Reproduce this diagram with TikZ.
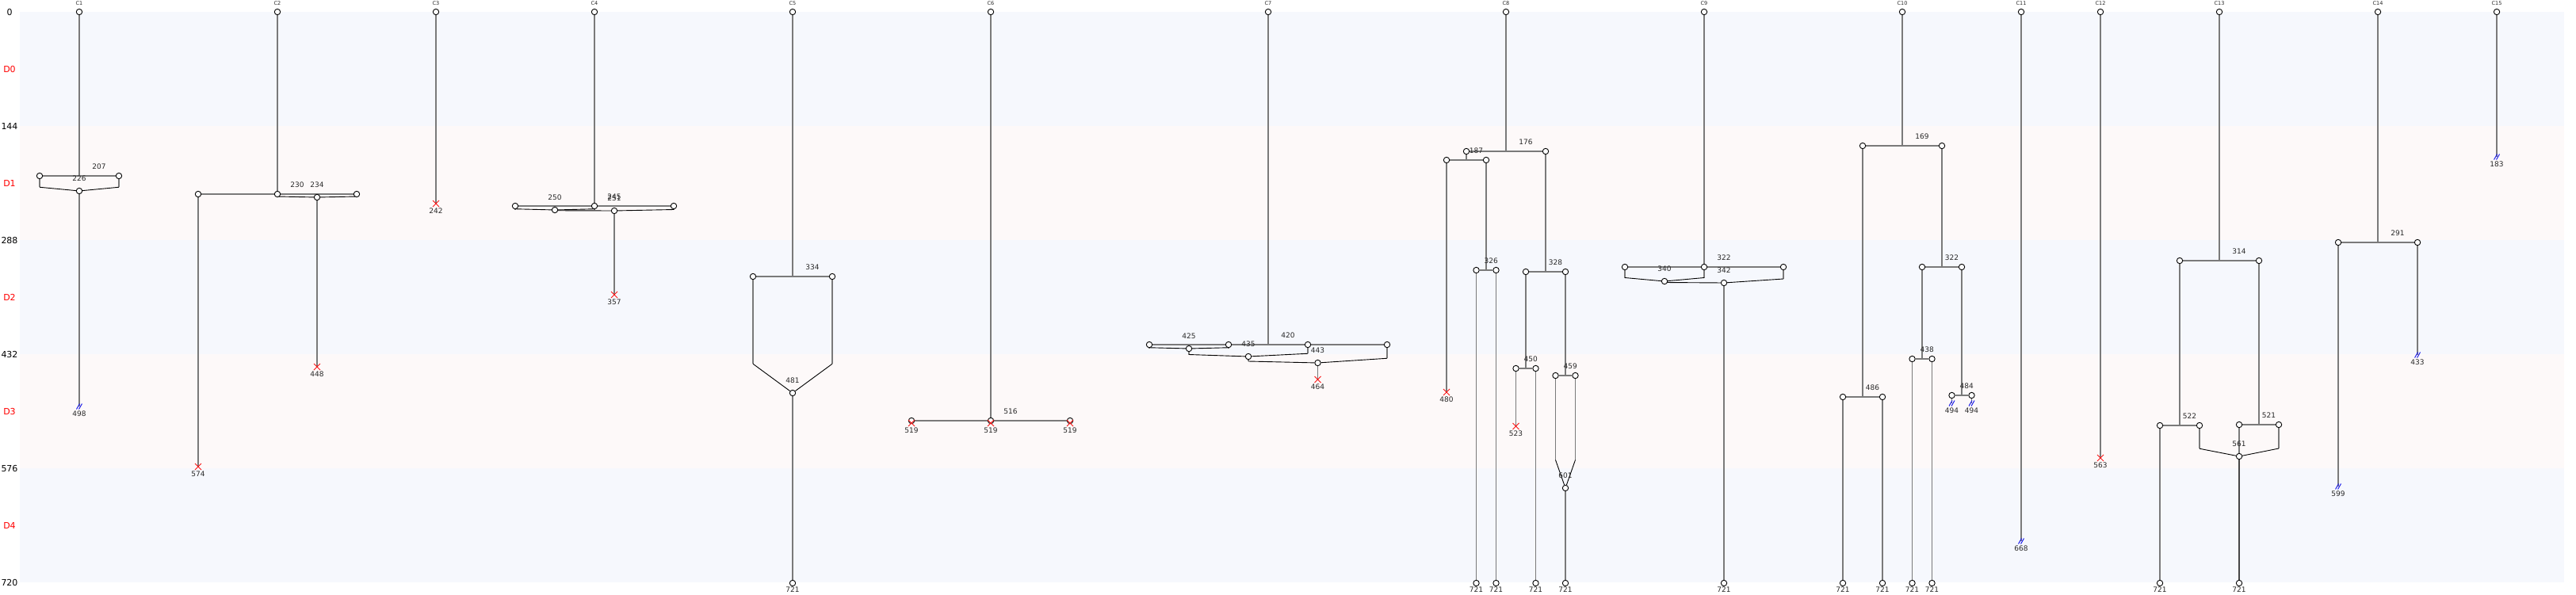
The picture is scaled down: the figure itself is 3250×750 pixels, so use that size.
\documentclass[tikz,border=0pt]{standalone}
\usepackage{fontspec}
\setmainfont{DejaVu Sans}
\usetikzlibrary{calc}
\definecolor{trkgray}{RGB}{122,122,122}
\definecolor{trkdark}{RGB}{70,70,70}
\definecolor{bandA}{RGB}{246,248,253}
\definecolor{bandB}{RGB}{253,249,249}
\definecolor{lblcol}{RGB}{40,40,40}
\definecolor{endblue}{RGB}{30,30,235}
\definecolor{endred}{RGB}{250,20,20}
\pgfdeclarelayer{bg}
\pgfdeclarelayer{lines}
\pgfsetlayers{bg,lines,main}
\tikzset{
 ev/.style={circle, draw=black, fill=white, line width=0.9pt, minimum size=7.4pt, inner sep=0pt},
 trk/.style={draw=trkgray, line width=1.6pt},
 trkd/.style={draw=trkdark, line width=1.6pt},
 mrg/.style={draw=black, line width=0.9pt},
 lbl/.style={font=\fontsize{9}{9}\selectfont, text=lblcol, inner sep=0pt},
 hdr/.style={font=\fontsize{6.5}{6.5}\selectfont, text=lblcol, inner sep=0pt},
 axl/.style={font=\fontsize{11}{11}\selectfont, inner sep=0pt},
 xmark/.style={draw=endred, line width=1pt},
 smark/.style={draw=endblue, line width=1pt},
}
\newcounter{lbc}
\newcommand\Lb[3]{\stepcounter{lbc}\node[lbl] (lb\the\value{lbc}) at (#1,#2) {#3};}
\newcommand\Top[3]{\node[ev] (#1) at (#2,0) {};\node[hdr] (#1h) at (#2,-10.5) {#3};}
\newcommand\Ev[3]{\node[ev] (#1) at (#2,#3) {};}
\newcommand\Pt[3]{\coordinate (#1) at (#2,#3);}
\newcommand\EndX[4]{\coordinate (#1) at (#2,#3);
 \draw[xmark] (#1) ++(-4,-4) -- ++(8,8) (#1) ++(-4,4) -- ++(8,-8);
 \Lb{#2}{{#3+9}}{#4}}
\newcommand\EndS[4]{\coordinate (#1) at (#2,#3);
 \draw[smark] (#1) ++(-3.5,3.5) -- ++(4,-7) (#1) ++(-0.5,3.5) -- ++(4,-7);
 \Lb{#2}{{#3+9}}{#4}}
\newcommand\EndO[2]{\node[ev] (#1) at (#2,721) {};\Lb{#2}{729.5}{721}}
\begin{document}
\begin{tikzpicture}[x=1pt,y=-1pt]
\useasboundingbox (0,0) rectangle (3250,750);
\begin{scope}[shift={(0,15)}]
\begin{pgfonlayer}{bg}
\fill[bandA] (25,0) rectangle (3235,144);
\fill[bandB] (25,144) rectangle (3235,288);
\fill[bandA] (25,288) rectangle (3235,432);
\fill[bandB] (25,432) rectangle (3235,576);
\fill[bandA] (25,576) rectangle (3235,720);
\end{pgfonlayer}
\foreach \v in {0,144,288,432,576,720} \node[axl] (ax\v) at (12,\v) {\v};
\foreach \i/\v in {0/72,1/216,2/360,3/504,4/648} \node[axl,text=red] (dl\i) at (12,\v) {D\i};
% ---------- C1
\Top{t1}{100}{C1}\Pt{s1}{100}{207}
\Ev{a1l}{50}{207}\Ev{a1r}{150}{207}\Lb{125}{195.5}{207}
\Ev{m1}{100}{226}\Lb{100}{210.5}{226}
\Pt{q1l}{50}{221.25}\Pt{q1r}{150}{221.25}
\EndS{e1}{100}{498}{498}
% ---------- C2
\Top{t2}{350}{C2}
\Ev{a2l}{250}{230}\Ev{a2c}{350}{230}\Ev{a2r}{450}{230}\Lb{375}{218.5}{230}
\Ev{m2}{400}{234}\Lb{400}{218.5}{234}
\Pt{q2c}{350}{233}\Pt{q2r}{450}{233}
\EndX{e2a}{250}{574}{574}
\EndX{e2b}{400}{448}{448}
% ---------- C3
\Top{t3}{550}{C3}\EndX{e3}{550}{242}{242}
% ---------- C4
\Top{t4}{750}{C4}
\Ev{a4l}{650}{245}\Ev{a4c}{750}{245}\Ev{a4r}{850}{245}\Lb{775}{233.5}{245}
\Ev{m4a}{700}{250}\Lb{700}{234.5}{250}
\Ev{m4b}{775}{251}\Lb{775}{235.5}{251}
\Pt{q4l}{650}{248.75}\Pt{q4c}{750}{248.75}\Pt{q4a}{700}{250.75}\Pt{q4r}{850}{249.5}
\EndX{e4}{775}{357}{357}
% ---------- C5
\Top{t5}{1000}{C5}\Pt{s5}{1000}{334}
\Ev{a5l}{950}{334}\Ev{a5r}{1050}{334}\Lb{1025}{322.5}{334}
\Ev{m5}{1000}{481}\Lb{1000}{465.5}{481}
\Pt{q5l}{950}{444.25}\Pt{q5r}{1050}{444.25}
\EndO{b5}{1000}
% ---------- C6
\Top{t6}{1250}{C6}
\Ev{a6l}{1150}{516}\Ev{a6c}{1250}{516}\Ev{a6r}{1350}{516}\Lb{1275}{504.5}{516}
\EndX{e6l}{1150}{519}{519}\EndX{e6c}{1250}{519}{519}\EndX{e6r}{1350}{519}{519}
% ---------- C7
\Top{t7}{1600}{C7}\Pt{s7}{1600}{420}
\Ev{a7a}{1450}{420}\Ev{a7b}{1550}{420}\Ev{a7c}{1650}{420}\Ev{a7d}{1750}{420}
\Lb{1625}{408.5}{420}
\Ev{m7a}{1500}{425}\Lb{1500}{409.5}{425}
\Ev{m7b}{1575}{435}\Lb{1575}{419.5}{435}
\Ev{m7c}{1662.5}{443}\Lb{1662.5}{427.5}{443}
\Pt{q7a}{1450}{423.75}\Pt{q7b}{1550}{423.75}
\Pt{q7m}{1500}{432.5}\Pt{q7c}{1650}{431.25}
\Pt{q7n}{1575}{441}\Pt{q7d}{1750}{437.25}
\EndX{e7}{1662.5}{464}{464}
% ---------- C8
\Top{t8}{1900}{C8}\Pt{s8}{1900}{176}
\Ev{a8l}{1850}{176}\Ev{a8r}{1950}{176}\Lb{1925}{164.5}{176}
\Pt{s8b}{1850}{187}\Ev{a8ll}{1825}{187}\Ev{a8lr}{1875}{187}\Lb{1862.5}{175.5}{187}
\EndX{e8a}{1825}{480}{480}
\Pt{s8c}{1875}{326}\Ev{c8l}{1862.5}{326}\Ev{c8r}{1887.5}{326}\Lb{1881.25}{314.5}{326}
\EndO{b8a}{1862.5}\EndO{b8b}{1887.5}
\Pt{s8d}{1950}{328}\Ev{d8l}{1925}{328}\Ev{d8r}{1975}{328}\Lb{1962.5}{316.5}{328}
\Pt{s8e}{1925}{450}\Ev{f8l}{1912.5}{450}\Ev{f8r}{1937.5}{450}\Lb{1931.25}{438.5}{450}
\EndX{e8b}{1912.5}{523}{523}\EndO{b8c}{1937.5}
\Pt{s8f}{1975}{459}\Ev{g8l}{1962.5}{459}\Ev{g8r}{1987.5}{459}\Lb{1981.25}{447.5}{459}
\Ev{m8}{1975}{601}\Lb{1975}{585.5}{601}
\Pt{q8l}{1962.5}{565.5}\Pt{q8r}{1987.5}{565.5}
\EndO{b8d}{1975}
% ---------- C9
\Top{t9}{2150}{C9}
\Ev{a9l}{2050}{322}\Ev{a9c}{2150}{322}\Ev{a9r}{2250}{322}\Lb{2175}{310.5}{322}
\Ev{m9a}{2100}{340}\Lb{2100}{324.5}{340}
\Ev{m9b}{2175}{342}\Lb{2175}{326.5}{342}
\Pt{q9l}{2050}{335.5}\Pt{q9c}{2150}{335.5}\Pt{q9a}{2100}{341.5}\Pt{q9r}{2250}{337}
\EndO{b9}{2175}
% ---------- C10
\Top{t10}{2400}{C10}\Pt{s10}{2400}{169}
\Ev{a10l}{2350}{169}\Ev{a10r}{2450}{169}\Lb{2425}{157.5}{169}
\Pt{s10b}{2350}{486}\Ev{h10l}{2325}{486}\Ev{h10r}{2375}{486}\Lb{2362.5}{474.5}{486}
\EndO{b10a}{2325}\EndO{b10b}{2375}
\Pt{s10c}{2450}{322}\Ev{i10l}{2425}{322}\Ev{i10r}{2475}{322}\Lb{2462.5}{310.5}{322}
\Pt{s10d}{2425}{438}\Ev{j10l}{2412.5}{438}\Ev{j10r}{2437.5}{438}\Lb{2431.25}{426.5}{438}
\EndO{b10c}{2412.5}\EndO{b10d}{2437.5}
\Pt{s10e}{2475}{484}\Ev{k10l}{2462.5}{484}\Ev{k10r}{2487.5}{484}\Lb{2481.25}{472.5}{484}
\EndS{e10a}{2462.5}{494}{494}\EndS{e10b}{2487.5}{494}{494}
% ---------- C11, C12
\Top{t11}{2550}{C11}\EndS{e11}{2550}{668}{668}
\Top{t12}{2650}{C12}\EndX{e12}{2650}{563}{563}
% ---------- C13
\Top{t13}{2800}{C13}\Pt{s13}{2800}{314}
\Ev{a13l}{2750}{314}\Ev{a13r}{2850}{314}\Lb{2825}{302.5}{314}
\Pt{s13b}{2750}{522}\Ev{n13l}{2725}{522}\Ev{n13r}{2775}{522}\Lb{2762.5}{510.5}{522}
\Pt{s13c}{2850}{521}\Ev{o13l}{2825}{521}\Ev{o13r}{2875}{521}\Lb{2862.5}{509.5}{521}
\Ev{m13}{2825}{561}\Lb{2825}{545.5}{561}
\Pt{q13l}{2775}{551.25}\Pt{q13r}{2875}{551}
\EndO{b13a}{2725}\EndO{b13b}{2825}
% ---------- C14
\Top{t14}{3000}{C14}\Pt{s14}{3000}{291}
\Ev{a14l}{2950}{291}\Ev{a14r}{3050}{291}\Lb{3025}{279.5}{291}
\EndS{e14a}{2950}{599}{599}\EndS{e14b}{3050}{433}{433}
% ---------- C15
\Top{t15}{3150}{C15}\EndS{e15}{3150}{183}{183}
% ================= connectors
\begin{pgfonlayer}{lines}
% C1
\draw[trk] (t1) -- (s1); \draw[trk] (a1l) -- (a1r);
\draw[trk] (a1l) -- (q1l); \draw[trk] (a1r) -- (q1r);
\draw[mrg] (q1l) -- (m1); \draw[mrg] (q1r) -- (m1);
\draw[trk] (m1) -- (e1);
% C2
\draw[trk] (t2) -- (a2c); \draw[trk] (a2l) -- (a2c); \draw[trk] (a2c) -- (a2r);
\draw[trk] (a2c) -- (q2c); \draw[trk] (a2r) -- (q2r);
\draw[mrg] (q2c) -- (m2); \draw[mrg] (q2r) -- (m2);
\draw[trk] (a2l) -- (e2a); \draw[trk] (m2) -- (e2b);
% C3
\draw[trk] (t3) -- (e3);
% C4
\draw[trk] (t4) -- (a4c); \draw[trk] (a4l) -- (a4c); \draw[trk] (a4c) -- (a4r);
\draw[trk] (a4l) -- (q4l); \draw[trk] (a4c) -- (q4c); \draw[trk] (a4r) -- (q4r);
\draw[mrg] (q4l) -- (m4a); \draw[mrg] (q4c) -- (m4a);
\draw[mrg] (m4a) -- (q4a) -- (m4b); \draw[mrg] (q4r) -- (m4b);
\draw[trk] (m4b) -- (e4);
% C5
\draw[trk] (t5) -- (s5); \draw[trk] (a5l) -- (a5r);
\draw[trk] (a5l) -- (q5l); \draw[trk] (a5r) -- (q5r);
\draw[mrg] (q5l) -- (m5); \draw[mrg] (q5r) -- (m5);
\draw[trk] (m5) -- (b5);
% C6
\draw[trk] (t6) -- (a6c); \draw[trk] (a6l) -- (a6c); \draw[trk] (a6c) -- (a6r);
\draw[trk] (a6l) -- (e6l); \draw[trk] (a6c) -- (e6c); \draw[trk] (a6r) -- (e6r);
% C7
\draw[trk] (t7) -- (s7);
\draw[trk] (a7a) -- (a7b); \draw[trk] (a7b) -- (a7c); \draw[trk] (a7c) -- (a7d);
\draw[trk] (a7a) -- (q7a); \draw[trk] (a7b) -- (q7b); \draw[trk] (m7a) -- (q7m);
\draw[trk] (a7c) -- (q7c); \draw[trk] (m7b) -- (q7n); \draw[trk] (a7d) -- (q7d);
\draw[mrg] (q7a) -- (m7a); \draw[mrg] (q7b) -- (m7a);
\draw[mrg] (q7m) -- (m7b); \draw[mrg] (q7c) -- (m7b);
\draw[mrg] (q7n) -- (m7c); \draw[mrg] (q7d) -- (m7c);
\draw[trk] (m7c) -- (e7);
% C8
\draw[trk] (t8) -- (s8); \draw[trk] (a8l) -- (a8r);
\draw[trk] (a8l) -- (s8b); \draw[trk] (a8ll) -- (a8lr);
\draw[trk] (a8ll) -- (e8a);
\draw[trk] (a8lr) -- (s8c); \draw[trk] (c8l) -- (c8r);
\draw[trk] (c8l) -- (b8a); \draw[trk] (c8r) -- (b8b);
\draw[trk] (a8r) -- (s8d); \draw[trk] (d8l) -- (d8r);
\draw[trk] (d8l) -- (s8e); \draw[trk] (f8l) -- (f8r);
\draw[trk] (f8l) -- (e8b); \draw[trk] (f8r) -- (b8c);
\draw[trk] (d8r) -- (s8f); \draw[trk] (g8l) -- (g8r);
\draw[trk] (g8l) -- (q8l); \draw[trk] (g8r) -- (q8r);
\draw[mrg] (q8l) -- (m8); \draw[mrg] (q8r) -- (m8);
\draw[trk] (m8) -- (b8d);
% C9
\draw[trk] (t9) -- (a9c); \draw[trk] (a9l) -- (a9c); \draw[trk] (a9c) -- (a9r);
\draw[trk] (a9l) -- (q9l); \draw[trk] (a9c) -- (q9c); \draw[trk] (a9r) -- (q9r);
\draw[mrg] (q9l) -- (m9a); \draw[mrg] (q9c) -- (m9a);
\draw[mrg] (m9a) -- (q9a) -- (m9b); \draw[mrg] (q9r) -- (m9b);
\draw[trk] (m9b) -- (b9);
% C10
\draw[trk] (t10) -- (s10); \draw[trk] (a10l) -- (a10r);
\draw[trk] (a10l) -- (s10b); \draw[trk] (h10l) -- (h10r);
\draw[trk] (h10l) -- (b10a); \draw[trk] (h10r) -- (b10b);
\draw[trk] (a10r) -- (s10c); \draw[trk] (i10l) -- (i10r);
\draw[trk] (i10l) -- (s10d); \draw[trk] (j10l) -- (j10r);
\draw[trk] (j10l) -- (b10c); \draw[trk] (j10r) -- (b10d);
\draw[trk] (i10r) -- (s10e); \draw[trk] (k10l) -- (k10r);
\draw[trk] (k10l) -- (e10a); \draw[trk] (k10r) -- (e10b);
% C11, C12
\draw[trk] (t11) -- (e11);
\draw[trk] (t12) -- (e12);
% C13
\draw[trk] (t13) -- (s13); \draw[trk] (a13l) -- (a13r);
\draw[trk] (a13l) -- (s13b); \draw[trk] (n13l) -- (n13r);
\draw[trk] (n13l) -- (b13a); \draw[trk] (n13r) -- (q13l);
\draw[trk] (a13r) -- (s13c); \draw[trk] (o13l) -- (o13r);
\draw[trk] (o13l) -- (m13); \draw[trk] (o13r) -- (q13r);
\draw[mrg] (q13l) -- (m13); \draw[mrg] (q13r) -- (m13);
\draw[trkd] (m13) -- (b13b);
% C14
\draw[trk] (t14) -- (s14); \draw[trk] (a14l) -- (a14r);
\draw[trk] (a14l) -- (e14a); \draw[trk] (a14r) -- (e14b);
% C15
\draw[trk] (t15) -- (e15);
\end{pgfonlayer}
\end{scope}
\end{tikzpicture}
\end{document}
